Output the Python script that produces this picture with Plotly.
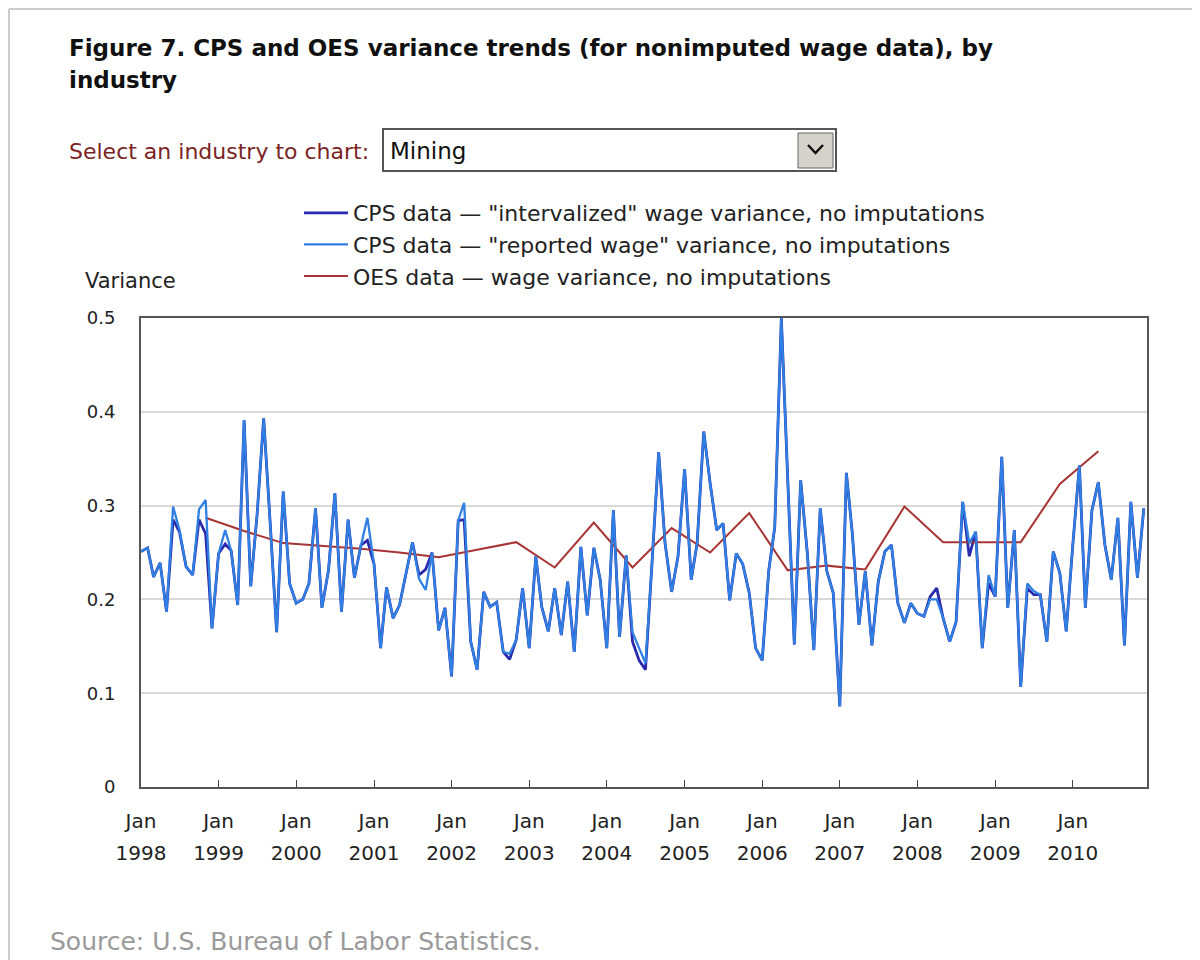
import pandas as pd
import plotly.graph_objects as go

# monthly CPS variance, Jan 1998 - Dec 2010
months = pd.date_range("1998-01-01", periods=156, freq="MS")

cps_intervalized = [
    0.251, 0.255, 0.224, 0.239, 0.187, 0.285, 0.272, 0.235, 0.226, 0.285, 0.270, 0.169,
    0.249, 0.259, 0.252, 0.194, 0.391, 0.214, 0.290, 0.393, 0.280, 0.165, 0.315, 0.217,
    0.196, 0.200, 0.217, 0.297, 0.191, 0.231, 0.313, 0.187, 0.285, 0.223, 0.258, 0.263,
    0.238, 0.148, 0.213, 0.180, 0.194, 0.228, 0.261, 0.226, 0.232, 0.250, 0.167, 0.191,
    0.118, 0.284, 0.285, 0.155, 0.125, 0.208, 0.192, 0.197, 0.144, 0.136, 0.157, 0.212,
    0.148, 0.246, 0.192, 0.166, 0.212, 0.162, 0.219, 0.144, 0.256, 0.183, 0.255, 0.221,
    0.148, 0.295, 0.160, 0.247, 0.155, 0.135, 0.125, 0.240, 0.357, 0.260, 0.208, 0.246,
    0.339, 0.221, 0.260, 0.379, 0.324, 0.274, 0.281, 0.199, 0.249, 0.238, 0.207, 0.148,
    0.135, 0.231, 0.277, 0.500, 0.320, 0.152, 0.327, 0.250, 0.146, 0.297, 0.230, 0.207,
    0.086, 0.335, 0.270, 0.173, 0.230, 0.151, 0.219, 0.251, 0.258, 0.196, 0.175, 0.196,
    0.185, 0.182, 0.203, 0.212, 0.180, 0.155, 0.176, 0.304, 0.246, 0.272, 0.148, 0.217,
    0.203, 0.352, 0.191, 0.274, 0.107, 0.212, 0.205, 0.205, 0.155, 0.251, 0.228, 0.166,
    0.258, 0.343, 0.191, 0.295, 0.325, 0.258, 0.221, 0.287, 0.151, 0.304, 0.223, 0.297,
]

cps_reported = [
    0.251, 0.255, 0.224, 0.239, 0.187, 0.299, 0.274, 0.235, 0.226, 0.296, 0.306, 0.169,
    0.249, 0.274, 0.252, 0.194, 0.391, 0.214, 0.290, 0.393, 0.280, 0.165, 0.315, 0.217,
    0.196, 0.200, 0.217, 0.297, 0.191, 0.231, 0.313, 0.187, 0.285, 0.223, 0.258, 0.287,
    0.238, 0.148, 0.213, 0.180, 0.194, 0.228, 0.261, 0.222, 0.210, 0.250, 0.167, 0.191,
    0.118, 0.284, 0.303, 0.155, 0.125, 0.208, 0.192, 0.197, 0.144, 0.142, 0.157, 0.212,
    0.148, 0.246, 0.192, 0.166, 0.212, 0.162, 0.219, 0.144, 0.256, 0.183, 0.255, 0.221,
    0.148, 0.295, 0.160, 0.247, 0.165, 0.148, 0.132, 0.240, 0.357, 0.260, 0.208, 0.246,
    0.339, 0.221, 0.260, 0.379, 0.324, 0.274, 0.281, 0.199, 0.249, 0.238, 0.207, 0.148,
    0.135, 0.231, 0.277, 0.500, 0.320, 0.152, 0.327, 0.250, 0.146, 0.297, 0.230, 0.207,
    0.086, 0.335, 0.270, 0.173, 0.230, 0.151, 0.219, 0.251, 0.258, 0.196, 0.175, 0.196,
    0.185, 0.182, 0.200, 0.200, 0.180, 0.155, 0.176, 0.304, 0.260, 0.272, 0.148, 0.226,
    0.203, 0.352, 0.191, 0.274, 0.107, 0.217, 0.209, 0.205, 0.155, 0.251, 0.228, 0.166,
    0.258, 0.343, 0.191, 0.295, 0.325, 0.258, 0.221, 0.287, 0.151, 0.304, 0.223, 0.297,
]

# OES, semiannual (May / Nov panels)
oes_dates = pd.date_range("1998-11-01", periods=24, freq="6MS")
oes_values = [
    0.287, 0.273, 0.260, 0.257, 0.254, 0.250, 0.245, 0.253, 0.261, 0.234, 0.282, 0.234,
    0.276, 0.250, 0.292, 0.231, 0.236, 0.232, 0.299, 0.261, 0.261, 0.261, 0.323, 0.358,
]

years = list(range(1998, 2011))
tick_dates = [pd.Timestamp(f"{y}-01-01") for y in years]
y_ticks = [0, 0.1, 0.2, 0.3, 0.4, 0.5]

# plot area in page pixels (the html body adds an 8px margin)
PAGE_OFF = 8
L, R, T, B = 141, 1147, 318, 787
W, H = 1200 - PAGE_OFF, 960 - PAGE_OFF


def px(x):
    return (x - L) / (R - L)


def py(y):
    return (B - y) / (B - T)


FONT = "DejaVu Sans"
x_range = [pd.Timestamp("1998-01-01"), pd.Timestamp("2010-12-16")]

fig = go.Figure()
fig.add_trace(go.Scatter(
    x=months, y=cps_intervalized, mode="lines",
    name='CPS data \u2014 "intervalized" wage variance, no imputations',
    line=dict(color="#2A2AAE", width=2.8), legendgroup="a",
))
fig.add_trace(go.Scatter(
    x=months, y=cps_reported, mode="lines", xaxis="x2",
    name='CPS data \u2014 "reported wage" variance, no imputations',
    line=dict(color="#2F80E2", width=2.3), legendgroup="b",
))
fig.add_trace(go.Scatter(
    x=oes_dates, y=oes_values, mode="lines",
    name="OES data \u2014 wage variance, no imputations",
    line=dict(color="#A83535", width=2), legendgroup="c",
))

fig.update_layout(
    width=W, height=H,
    margin=dict(l=L - PAGE_OFF, r=1200 - R, t=T - PAGE_OFF, b=960 - B),
    paper_bgcolor="white", plot_bgcolor="white",
    font=dict(family=FONT, size=18, color="#222222"),
    showlegend=True,
    legend=dict(
        x=px(299), y=py(192), xanchor="left", yanchor="top",
        font=dict(family=FONT, size=22, color="#222222"),
        traceorder="grouped", tracegroupgap=0, itemwidth=44,
        bgcolor="rgba(0,0,0,0)",
    ),
    xaxis=dict(
        range=x_range, tickvals=tick_dates, ticktext=["Jan"] * len(years),
        tickfont=dict(size=20),
        ticks="inside", ticklen=7, tickcolor="#444", tickwidth=1,
        showgrid=False, showline=True, linecolor="#555", linewidth=2, mirror=True,
        ticklabelstandoff=15, zeroline=False,
    ),
    xaxis2=dict(
        overlaying="x", anchor="y", side="bottom",
        range=x_range, tickvals=tick_dates, ticktext=[str(y) for y in years],
        tickfont=dict(size=20),
        ticks="", showgrid=False, showline=False, ticklabelstandoff=52,
        zeroline=False,
    ),
    yaxis=dict(
        range=[0, 0.5], tickvals=y_ticks, ticktext=["0", "0.1", "0.2", "0.3", "0.4", "0.5"],
        tickfont=dict(size=18),
        showgrid=True, gridcolor="#D9D9D9", gridwidth=2,
        showline=True, linecolor="#555", linewidth=2, mirror=True,
        ticks="", ticklabelstandoff=20, zeroline=False,
    ),
)

# page frame
fig.add_shape(type="line", xref="paper", yref="paper", x0=px(9), x1=px(1200), y0=py(9), y1=py(9),
              line=dict(color="#CCCCCC", width=2))
fig.add_shape(type="line", xref="paper", yref="paper", x0=px(9), x1=px(9), y0=py(9), y1=py(960),
              line=dict(color="#CCCCCC", width=2))

# industry selector box
fig.add_shape(type="rect", xref="paper", yref="paper", x0=px(383), x1=px(836), y0=py(129), y1=py(171),
              line=dict(color="#555555", width=2), fillcolor="white")
fig.add_shape(type="rect", xref="paper", yref="paper", x0=px(798), x1=px(833), y0=py(133), y1=py(168),
              line=dict(color="#666666", width=1), fillcolor="#D6D2CA")
fig.add_shape(type="path", xref="paper", yref="paper",
              path=f"M {px(808)},{py(145)} L {px(815.5)},{py(153)} L {px(823)},{py(145)}",
              line=dict(color="#111111", width=2.5))

annotations = [
    dict(text="<b>Figure 7. CPS and OES variance trends (for nonimputed wage data), by</b>",
         x=px(67), y=py(48), size=23, color="#111111"),
    dict(text="<b>industry</b>", x=px(67), y=py(80), size=23, color="#111111"),
    dict(text="Select an industry to chart:", x=px(67), y=py(152), size=22, color="#7A2424"),
    dict(text="Mining", x=px(388), y=py(151), size=23, color="#111111"),
    dict(text="Variance", x=px(83), y=py(281), size=21, color="#222222"),
    dict(text="Source: U.S. Bureau of Labor Statistics.", x=px(48), y=py(941), size=25, color="#9A9A9A"),
]
for a in annotations:
    fig.add_annotation(
        text=a["text"], x=a["x"], y=a["y"], xref="paper", yref="paper",
        xanchor="left", yanchor="middle", showarrow=False,
        font=dict(family=FONT, size=a["size"], color=a["color"]),
    )

fig.write_html("out.html")
